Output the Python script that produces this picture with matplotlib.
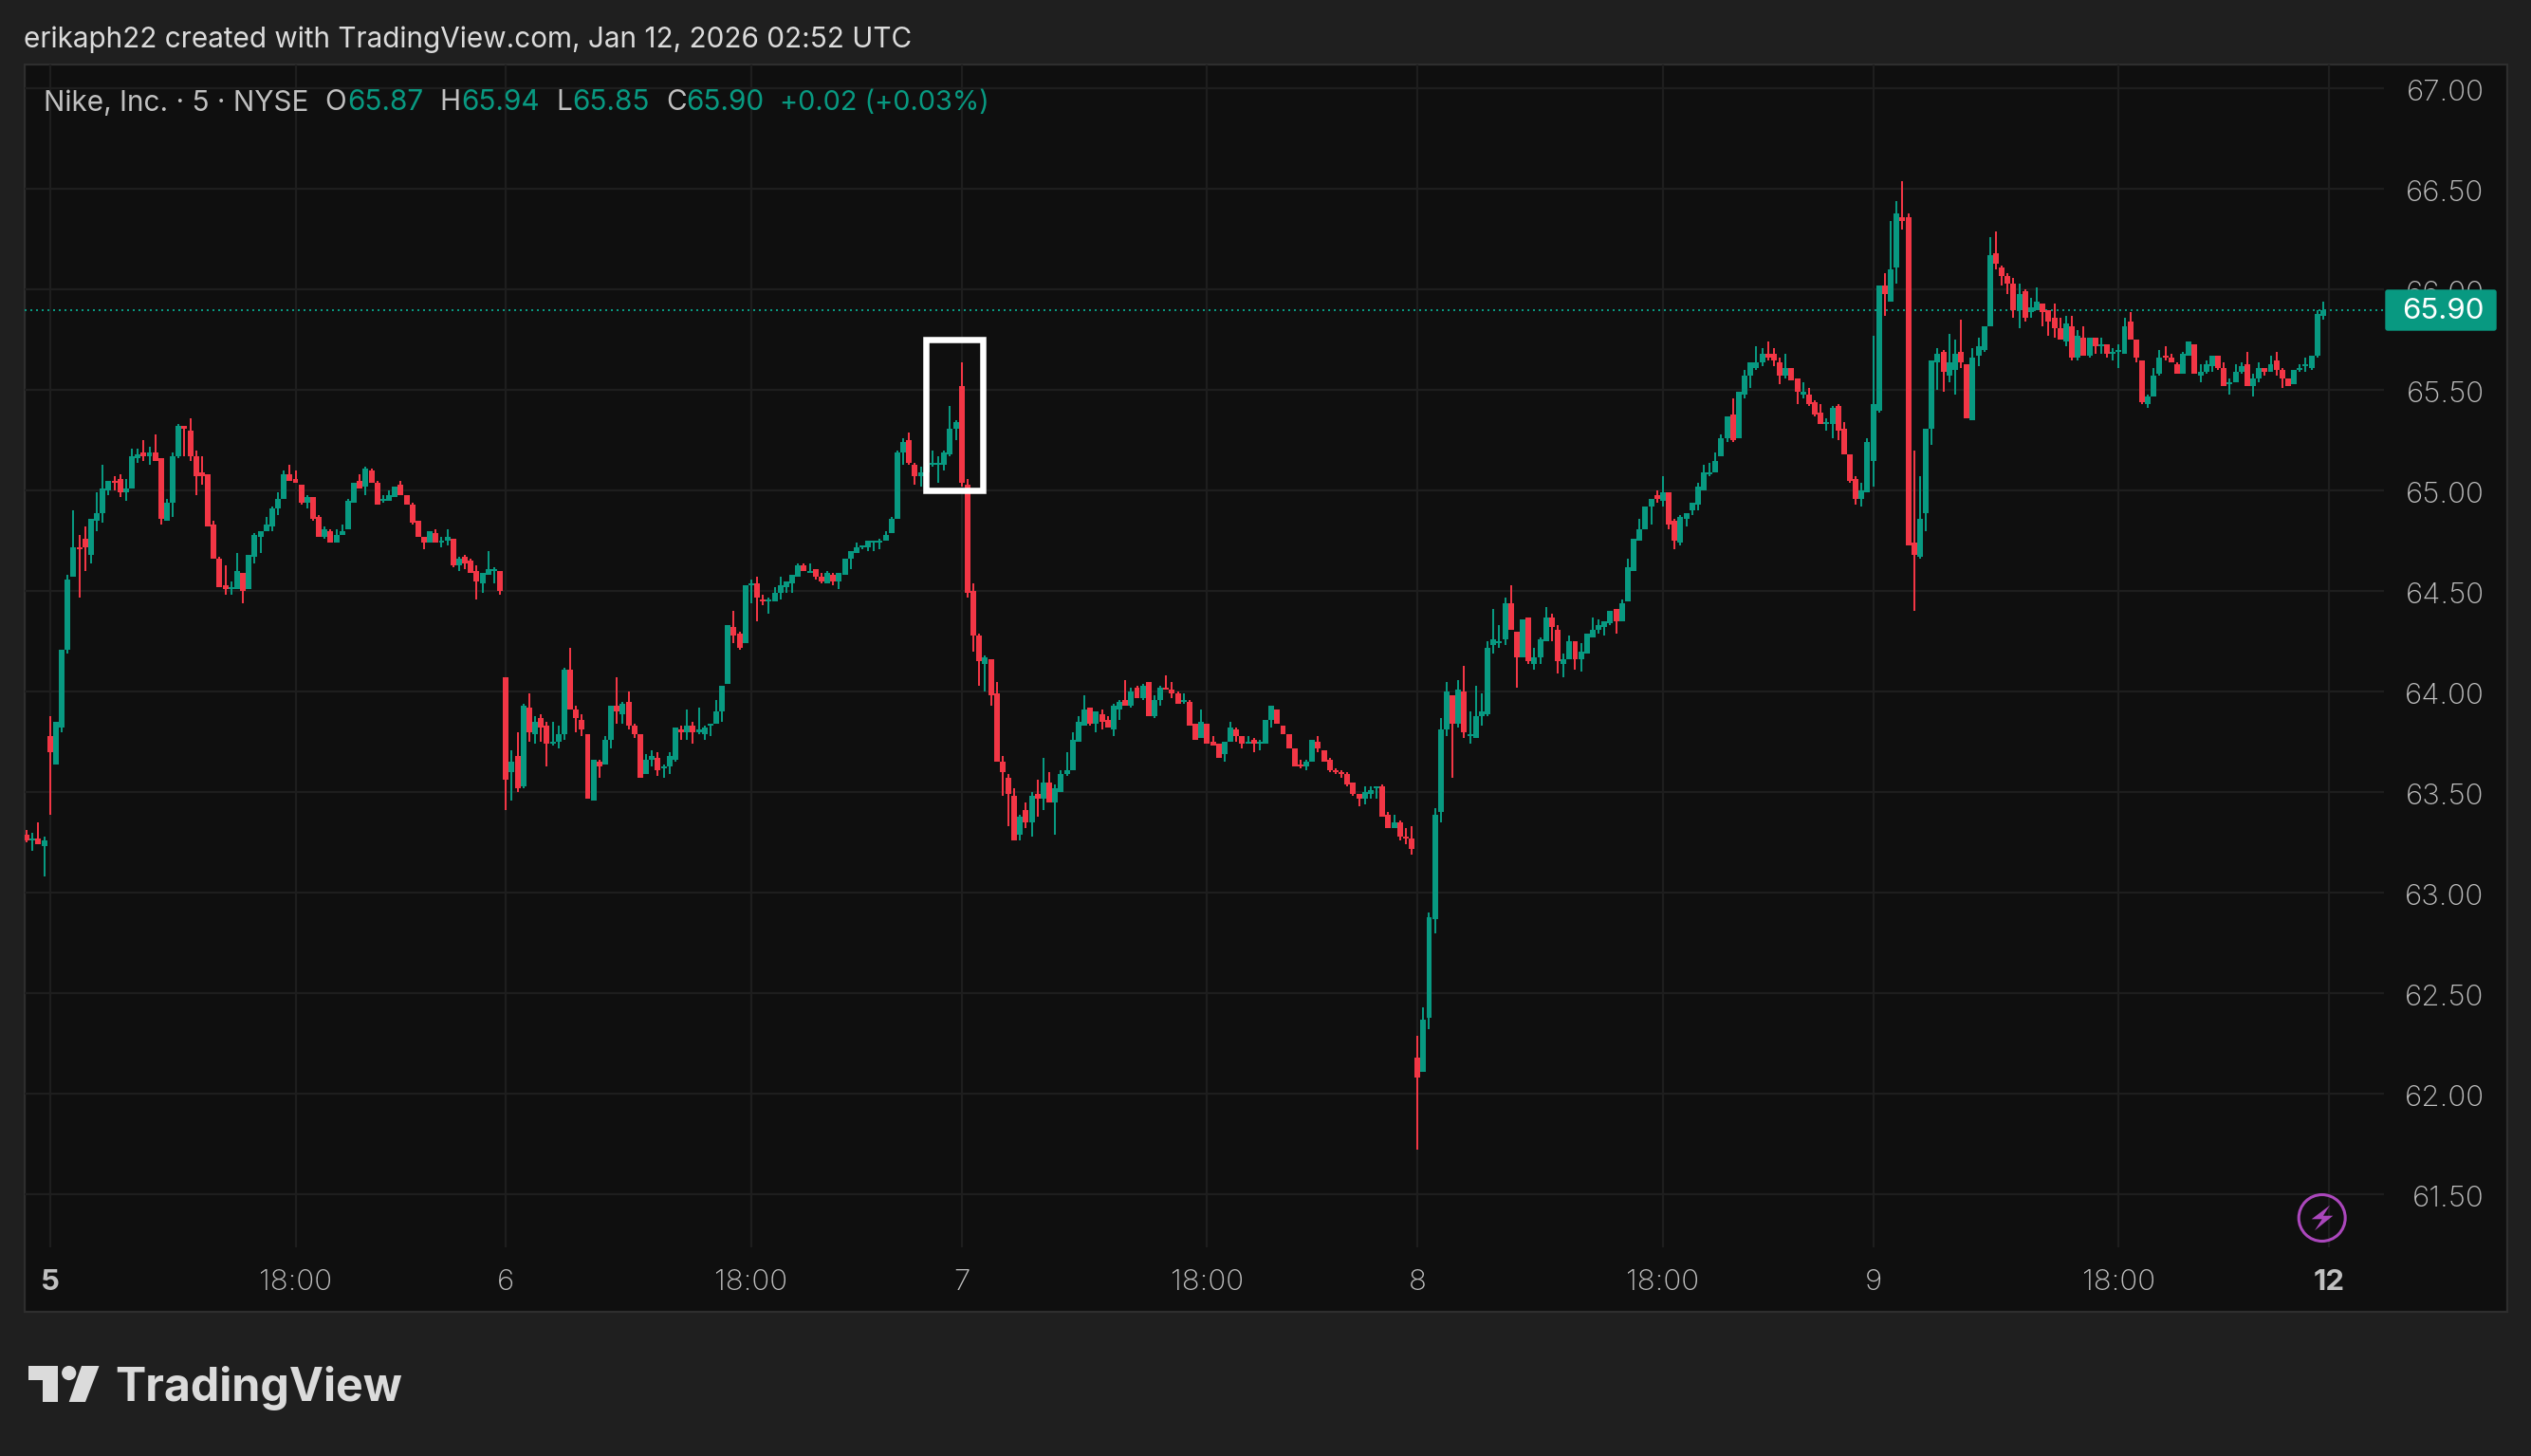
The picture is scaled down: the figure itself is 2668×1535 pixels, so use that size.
import matplotlib
matplotlib.use("Agg")
from matplotlib import pyplot as plt
from matplotlib.patches import Rectangle, Circle, Polygon, FancyBboxPatch
from matplotlib.transforms import Affine2D, ScaledTranslation

W, H = 2668, 1535

# last four bars of the previous session
prev_open = [63.29, 63.26, 63.27, 63.23]
prev_high = [63.31, 63.30, 63.35, 63.28]
prev_low = [63.25, 63.21, 63.24, 63.08]
prev_close = [63.26, 63.27, 63.24, 63.26]

# Jan 5
d5_open = [63.78, 63.64, 63.82, 64.21, 64.57, 64.72, 64.76, 64.68, 64.85, 64.89,
           65.00, 65.05, 65.06, 64.99, 65.01, 65.16, 65.19, 65.17, 65.19, 65.16,
           64.85, 64.94, 65.17, 65.32, 65.30, 65.17, 65.09, 65.08, 64.83, 64.66,
           64.53, 64.51, 64.51, 64.59, 64.51, 64.67, 64.77, 64.80, 64.82, 64.91,
           64.96, 65.08, 65.06, 65.03, 64.94, 64.97, 64.87, 64.77, 64.80, 64.74,
           64.78, 64.81, 64.94, 65.05, 65.02, 65.10, 65.04, 64.95, 64.95, 64.97,
           65.03, 64.98, 64.93, 64.85, 64.77, 64.74, 64.79, 64.74, 64.75, 64.76,
           64.63, 64.67, 64.65, 64.60, 64.54, 64.58, 64.60, 64.60]
d5_high = [63.88, 63.85, 64.21, 64.58, 64.90, 64.78, 64.82, 64.86, 64.99, 65.13,
           65.05, 65.07, 65.08, 65.06, 65.21, 65.21, 65.25, 65.22, 65.28, 65.16,
           64.96, 65.19, 65.33, 65.32, 65.36, 65.20, 65.17, 65.08, 64.85, 64.67,
           64.63, 64.55, 64.69, 64.59, 64.68, 64.79, 64.80, 64.87, 64.92, 64.99,
           65.10, 65.13, 65.10, 65.03, 64.98, 64.97, 64.88, 64.82, 64.81, 64.81,
           64.83, 64.96, 65.04, 65.08, 65.12, 65.11, 65.05, 64.98, 65.00, 65.02,
           65.05, 64.98, 64.94, 64.85, 64.77, 64.80, 64.81, 64.77, 64.81, 64.76,
           64.67, 64.68, 64.66, 64.63, 64.59, 64.70, 64.62, 64.60]
d5_low = [63.39, 63.64, 63.80, 64.19, 64.57, 64.47, 64.60, 64.64, 64.80, 64.84,
          64.98, 65.00, 64.97, 64.95, 65.01, 65.14, 65.15, 65.13, 65.15, 64.83,
          64.85, 64.87, 65.16, 65.17, 65.15, 64.98, 65.03, 64.82, 64.66, 64.52,
          64.48, 64.48, 64.51, 64.44, 64.51, 64.64, 64.69, 64.80, 64.80, 64.88,
          64.96, 65.05, 65.04, 64.93, 64.91, 64.85, 64.77, 64.76, 64.74, 64.74,
          64.78, 64.81, 64.94, 65.01, 64.98, 65.04, 64.93, 64.94, 64.95, 64.97,
          64.98, 64.93, 64.83, 64.77, 64.71, 64.74, 64.74, 64.72, 64.73, 64.62,
          64.60, 64.61, 64.59, 64.46, 64.49, 64.58, 64.54, 64.48]
d5_close = [63.70, 63.85, 64.21, 64.56, 64.72, 64.71, 64.72, 64.86, 64.89, 65.01,
            65.05, 65.04, 64.99, 65.01, 65.17, 65.18, 65.17, 65.19, 65.15, 64.86,
            64.94, 65.17, 65.32, 65.31, 65.17, 65.07, 65.07, 64.82, 64.66, 64.52,
            64.51, 64.52, 64.60, 64.50, 64.68, 64.78, 64.80, 64.83, 64.91, 64.96,
            65.08, 65.05, 65.04, 64.94, 64.97, 64.86, 64.77, 64.81, 64.74, 64.78,
            64.80, 64.95, 65.04, 65.01, 65.11, 65.04, 64.93, 64.96, 64.98, 65.02,
            64.98, 64.93, 64.84, 64.77, 64.74, 64.80, 64.74, 64.75, 64.77, 64.63,
            64.66, 64.64, 64.59, 64.55, 64.59, 64.61, 64.61, 64.50]

# Jan 6
d6_open = [64.07, 63.60, 63.68, 63.53, 63.92, 63.79, 63.87, 63.83, 63.74, 63.75,
           63.79, 64.11, 63.91, 63.86, 63.79, 63.46, 63.65, 63.64, 63.76, 63.93,
           63.89, 63.95, 63.83, 63.79, 63.59, 63.66, 63.67, 63.62, 63.63, 63.66,
           63.81, 63.80, 63.83, 63.80, 63.79, 63.83, 63.84, 63.90, 64.04, 64.32,
           64.29, 64.24, 64.53, 64.54, 64.46, 64.45, 64.45, 64.49, 64.52, 64.54,
           64.57, 64.63, 64.59, 64.61, 64.57, 64.54, 64.58, 64.55, 64.58, 64.66,
           64.69, 64.72, 64.72, 64.74, 64.74, 64.75, 64.79, 64.86, 65.19, 65.25,
           65.13, 65.07, 65.09, 65.13, 65.13, 65.13, 65.18, 65.31]
d6_high = [64.07, 63.71, 63.80, 63.94, 63.99, 63.88, 63.89, 63.85, 63.85, 63.83,
           64.12, 64.22, 63.93, 63.89, 63.79, 63.66, 63.66, 63.78, 63.93, 64.07,
           63.95, 64.00, 63.84, 63.79, 63.69, 63.71, 63.70, 63.64, 63.70, 63.82,
           63.83, 63.91, 63.85, 63.92, 63.83, 63.84, 63.96, 64.03, 64.33, 64.40,
           64.30, 64.53, 64.56, 64.57, 64.48, 64.47, 64.52, 64.57, 64.55, 64.58,
           64.64, 64.64, 64.64, 64.61, 64.59, 64.60, 64.59, 64.59, 64.66, 64.70,
           64.74, 64.73, 64.75, 64.75, 64.76, 64.80, 64.87, 65.20, 65.26, 65.29,
           65.14, 65.12, 65.13, 65.20, 65.17, 65.20, 65.42, 65.35]
d6_low = [63.41, 63.46, 63.50, 63.52, 63.75, 63.74, 63.75, 63.63, 63.73, 63.72,
          63.76, 63.91, 63.80, 63.78, 63.47, 63.46, 63.57, 63.64, 63.72, 63.84,
          63.84, 63.81, 63.77, 63.57, 63.59, 63.63, 63.58, 63.57, 63.59, 63.65,
          63.76, 63.76, 63.74, 63.79, 63.76, 63.78, 63.84, 63.85, 64.04, 64.24,
          64.21, 64.24, 64.44, 64.35, 64.43, 64.39, 64.45, 64.46, 64.49, 64.49,
          64.57, 64.60, 64.59, 64.56, 64.54, 64.54, 64.53, 64.51, 64.58, 64.61,
          64.69, 64.71, 64.70, 64.70, 64.71, 64.75, 64.79, 64.86, 65.13, 65.13,
          65.03, 65.02, 65.08, 65.12, 65.04, 65.10, 65.17, 65.25]
d6_close = [63.56, 63.65, 63.52, 63.93, 63.80, 63.85, 63.82, 63.74, 63.75, 63.79,
            64.11, 63.91, 63.87, 63.81, 63.47, 63.66, 63.63, 63.76, 63.93, 63.90,
            63.94, 63.83, 63.79, 63.57, 63.66, 63.68, 63.61, 63.63, 63.68, 63.82,
            63.80, 63.83, 63.80, 63.81, 63.82, 63.84, 63.90, 64.03, 64.33, 64.28,
            64.22, 64.53, 64.54, 64.47, 64.45, 64.46, 64.49, 64.53, 64.55, 64.58,
            64.63, 64.60, 64.60, 64.57, 64.55, 64.59, 64.55, 64.59, 64.66, 64.70,
            64.72, 64.73, 64.75, 64.75, 64.75, 64.78, 64.86, 65.19, 65.24, 65.14,
            65.07, 65.09, 65.13, 65.14, 65.14, 65.19, 65.31, 65.34]

# Jan 7
d7_open = [65.52, 65.03, 64.50, 64.28, 64.14, 64.16, 63.99, 63.65, 63.57, 63.48,
           63.29, 63.41, 63.35, 63.49, 63.47, 63.55, 63.45, 63.50, 63.59, 63.61,
           63.75, 63.83, 63.92, 63.84, 63.89, 63.86, 63.81, 63.91, 63.96, 63.93,
           64.02, 63.97, 64.05, 63.88, 63.96, 64.02, 64.01, 63.99, 63.95, 63.95,
           63.84, 63.77, 63.84, 63.75, 63.74, 63.69, 63.75, 63.81, 63.78, 63.74,
           63.76, 63.74, 63.74, 63.86, 63.91, 63.83, 63.79, 63.72, 63.64, 63.63,
           63.65, 63.75, 63.71, 63.66, 63.61, 63.60, 63.59, 63.55, 63.49, 63.47,
           63.49, 63.52, 63.53, 63.39, 63.32, 63.35, 63.28, 63.27]
d7_high = [65.64, 65.06, 64.54, 64.29, 64.18, 64.16, 64.05, 63.68, 63.59, 63.52,
           63.39, 63.45, 63.50, 63.56, 63.67, 63.60, 63.54, 63.61, 63.70, 63.80,
           63.88, 63.98, 63.92, 63.90, 63.91, 63.88, 63.94, 63.96, 64.06, 64.02,
           64.03, 64.04, 64.05, 63.98, 64.03, 64.08, 64.05, 64.00, 63.99, 63.96,
           63.84, 63.91, 63.84, 63.78, 63.74, 63.75, 63.85, 63.82, 63.78, 63.78,
           63.77, 63.76, 63.86, 63.93, 63.91, 63.83, 63.79, 63.72, 63.66, 63.66,
           63.76, 63.78, 63.71, 63.67, 63.62, 63.61, 63.60, 63.55, 63.49, 63.53,
           63.53, 63.53, 63.54, 63.40, 63.39, 63.36, 63.32, 63.33]
d7_low = [65.02, 64.47, 64.20, 64.03, 64.00, 63.93, 63.65, 63.48, 63.33, 63.26,
          63.26, 63.32, 63.28, 63.38, 63.41, 63.45, 63.29, 63.50, 63.58, 63.61,
          63.75, 63.83, 63.83, 63.80, 63.81, 63.82, 63.78, 63.86, 63.93, 63.92,
          63.97, 63.96, 63.88, 63.87, 63.93, 64.01, 63.97, 63.94, 63.94, 63.83,
          63.76, 63.77, 63.74, 63.73, 63.67, 63.65, 63.75, 63.75, 63.72, 63.74,
          63.70, 63.71, 63.74, 63.82, 63.84, 63.79, 63.72, 63.63, 63.62, 63.61,
          63.65, 63.70, 63.65, 63.60, 63.59, 63.57, 63.53, 63.48, 63.43, 63.44,
          63.47, 63.47, 63.38, 63.32, 63.32, 63.26, 63.24, 63.19]
d7_close = [65.04, 64.49, 64.28, 64.15, 64.17, 63.98, 63.65, 63.60, 63.49, 63.26,
            63.38, 63.35, 63.48, 63.47, 63.55, 63.45, 63.52, 63.59, 63.61, 63.76,
            63.85, 63.91, 63.84, 63.90, 63.85, 63.82, 63.93, 63.95, 63.93, 64.00,
            63.97, 64.03, 63.88, 63.96, 64.02, 64.01, 63.99, 63.94, 63.96, 63.83,
            63.76, 63.85, 63.74, 63.73, 63.67, 63.75, 63.82, 63.78, 63.74, 63.75,
            63.74, 63.75, 63.86, 63.93, 63.84, 63.79, 63.72, 63.63, 63.63, 63.65,
            63.76, 63.72, 63.65, 63.61, 63.60, 63.59, 63.54, 63.49, 63.47, 63.50,
            63.51, 63.53, 63.38, 63.32, 63.35, 63.28, 63.27, 63.22]

# Jan 8
d8_open = [62.18, 62.11, 62.38, 62.87, 63.40, 63.81, 63.98, 63.84, 64.00, 63.78,
           63.77, 63.88, 63.89, 64.23, 64.24, 64.26, 64.44, 64.30, 64.17, 64.37,
           64.14, 64.17, 64.25, 64.37, 64.31, 64.14, 64.16, 64.25, 64.16, 64.19,
           64.27, 64.31, 64.32, 64.34, 64.41, 64.35, 64.45, 64.60, 64.75, 64.81,
           64.92, 64.98, 64.95, 64.99, 64.85, 64.74, 64.86, 64.90, 64.93, 65.00,
           65.08, 65.09, 65.17, 65.26, 65.38, 65.26, 65.48, 65.57, 65.61, 65.64,
           65.68, 65.68, 65.64, 65.57, 65.61, 65.56, 65.48, 65.48, 65.44, 65.39,
           65.33, 65.33, 65.42, 65.31, 65.18, 65.06, 64.96, 64.99]
d8_high = [62.29, 62.43, 62.90, 63.42, 63.87, 64.05, 63.98, 64.06, 64.13, 63.90,
           64.03, 63.99, 64.25, 64.41, 64.33, 64.47, 64.53, 64.30, 64.36, 64.37,
           64.22, 64.27, 64.42, 64.39, 64.33, 64.19, 64.28, 64.25, 64.24, 64.29,
           64.37, 64.36, 64.35, 64.40, 64.41, 64.46, 64.66, 64.76, 64.86, 64.92,
           64.96, 65.00, 65.07, 64.99, 64.86, 64.88, 64.89, 64.94, 65.04, 65.13,
           65.14, 65.19, 65.28, 65.37, 65.46, 65.49, 65.60, 65.64, 65.72, 65.71,
           65.74, 65.71, 65.66, 65.68, 65.61, 65.56, 65.54, 65.51, 65.45, 65.43,
           65.36, 65.42, 65.43, 65.34, 65.18, 65.07, 65.04, 65.26]
d8_low = [61.72, 62.11, 62.32, 62.80, 63.35, 63.78, 63.57, 63.82, 63.77, 63.74,
          63.77, 63.83, 63.88, 64.19, 64.22, 64.23, 64.31, 64.02, 64.17, 64.14,
          64.11, 64.14, 64.25, 64.25, 64.09, 64.07, 64.16, 64.11, 64.10, 64.19,
          64.27, 64.29, 64.28, 64.33, 64.29, 64.35, 64.45, 64.60, 64.75, 64.81,
          64.83, 64.94, 64.92, 64.81, 64.71, 64.73, 64.82, 64.88, 64.90, 65.00,
          65.07, 65.09, 65.17, 65.24, 65.24, 65.26, 65.46, 65.51, 65.60, 65.62,
          65.65, 65.62, 65.53, 65.56, 65.55, 65.43, 65.46, 65.42, 65.37, 65.33,
          65.30, 65.26, 65.25, 65.18, 65.04, 64.93, 64.92, 64.99]
d8_close = [62.08, 62.37, 62.88, 63.39, 63.81, 64.00, 63.84, 64.01, 63.80, 63.79,
            63.88, 63.90, 64.22, 64.26, 64.25, 64.44, 64.31, 64.17, 64.36, 64.15,
            64.17, 64.26, 64.37, 64.32, 64.15, 64.16, 64.25, 64.16, 64.20, 64.29,
            64.31, 64.33, 64.35, 64.40, 64.35, 64.44, 64.62, 64.76, 64.81, 64.92,
            64.96, 64.96, 64.99, 64.83, 64.75, 64.87, 64.89, 64.94, 65.02, 65.09,
            65.09, 65.15, 65.26, 65.37, 65.25, 65.49, 65.57, 65.64, 65.64, 65.68,
            65.66, 65.65, 65.57, 65.61, 65.55, 65.49, 65.49, 65.43, 65.38, 65.33,
            65.34, 65.41, 65.30, 65.18, 65.05, 64.96, 65.00, 65.24]

# Jan 9
d9_open = [65.15, 65.40, 66.02, 65.94, 66.11, 66.36, 66.36, 64.74, 64.67, 64.89,
           65.31, 65.64, 65.69, 65.57, 65.60, 65.69, 65.63, 65.35, 65.67, 65.70,
           65.82, 66.18, 66.11, 66.07, 66.03, 65.90, 65.99, 65.89, 65.90, 65.93,
           65.90, 65.86, 65.81, 65.74, 65.82, 65.66, 65.76, 65.67, 65.76, 65.72,
           65.73, 65.68, 65.69, 65.68, 65.84, 65.75, 65.65, 65.43, 65.47, 65.58,
           65.67, 65.66, 65.63, 65.58, 65.67, 65.73, 65.57, 65.59, 65.62, 65.67,
           65.61, 65.53, 65.54, 65.59, 65.63, 65.52, 65.56, 65.61, 65.59, 65.65,
           65.60, 65.56, 65.53, 65.60, 65.62, 65.61, 65.67, 65.87]
d9_high = [65.77, 66.02, 66.08, 66.34, 66.44, 66.54, 66.38, 65.20, 65.07, 65.31,
           65.65, 65.71, 65.70, 65.78, 65.75, 65.85, 65.63, 65.71, 65.76, 65.82,
           66.26, 66.29, 66.12, 66.08, 66.06, 66.03, 66.00, 65.96, 66.01, 65.93,
           65.90, 65.93, 65.86, 65.87, 65.87, 65.80, 65.82, 65.76, 65.76, 65.76,
           65.73, 65.71, 65.73, 65.86, 65.89, 65.75, 65.65, 65.48, 65.61, 65.70,
           65.72, 65.68, 65.64, 65.69, 65.74, 65.73, 65.63, 65.65, 65.67, 65.67,
           65.64, 65.56, 65.63, 65.64, 65.69, 65.58, 65.64, 65.61, 65.67, 65.69,
           65.61, 65.56, 65.60, 65.63, 65.66, 65.67, 65.90, 65.94]
d9_low = [65.02, 65.39, 65.87, 65.94, 66.03, 66.30, 64.73, 64.40, 64.66, 64.80,
          65.23, 65.50, 65.49, 65.54, 65.48, 65.61, 65.36, 65.35, 65.62, 65.69,
          65.82, 66.10, 66.02, 65.98, 65.86, 65.81, 65.84, 65.86, 65.90, 65.82,
          65.77, 65.76, 65.75, 65.72, 65.65, 65.65, 65.67, 65.66, 65.68, 65.68,
          65.66, 65.65, 65.61, 65.68, 65.75, 65.64, 65.43, 65.41, 65.47, 65.57,
          65.65, 65.64, 65.58, 65.58, 65.67, 65.58, 65.54, 65.58, 65.59, 65.60,
          65.52, 65.48, 65.54, 65.58, 65.52, 65.47, 65.54, 65.57, 65.59, 65.57,
          65.51, 65.52, 65.53, 65.59, 65.59, 65.60, 65.66, 65.85]
d9_close = [65.43, 66.02, 65.98, 66.10, 66.38, 66.34, 64.73, 64.68, 64.86, 65.31,
            65.65, 65.68, 65.59, 65.64, 65.68, 65.64, 65.36, 65.66, 65.72, 65.82,
            66.17, 66.13, 66.07, 66.03, 65.90, 65.98, 65.86, 65.91, 65.94, 65.89,
            65.84, 65.81, 65.75, 65.83, 65.66, 65.77, 65.67, 65.76, 65.72, 65.73,
            65.68, 65.69, 65.70, 65.82, 65.75, 65.66, 65.44, 65.47, 65.57, 65.66,
            65.66, 65.64, 65.58, 65.68, 65.74, 65.58, 65.59, 65.63, 65.67, 65.61,
            65.52, 65.54, 65.59, 65.62, 65.52, 65.56, 65.61, 65.59, 65.63, 65.60,
            65.56, 65.52, 65.60, 65.61, 65.63, 65.67, 65.88, 65.90]

price_ticks = [61.5, 62.0, 62.5, 63.0, 63.5, 64.0, 64.5, 65.0, 65.5, 66.0, 66.5, 67.0]
time_ticks = [0, 42, 78, 120, 156, 198, 234, 276, 312, 354, 390]
time_labels = ["5", "18:00", "6", "18:00", "7", "18:00", "8", "18:00", "9", "18:00", "12"]

opens = prev_open + d5_open + d6_open + d7_open + d8_open + d9_open
highs = prev_high + d5_high + d6_high + d7_high + d8_high + d9_high
lows = prev_low + d5_low + d6_low + d7_low + d8_low + d9_low
closes = prev_close + d5_close + d6_close + d7_close + d8_close + d9_close
bars = list(range(-4, len(opens) - 4))

UP = "#089981"
DOWN = "#F23645"
BG = "#1F1F1F"
PANEL = "#0F0F0F"
GRID = "#1E1E1E"
BORDER = "#2E2E2E"
AXIS_TEXT = "#C0C0C0"
HEAD_TEXT = "#DBDBDB"
FONT = "Inter"

plt.rcParams["font.family"] = [FONT, "DejaVu Sans"]

fig = plt.figure(figsize=(W / 100, H / 100), dpi=100, facecolor=BG)
px = Affine2D().scale(1, -1).translate(0, H)

fig.add_artist(Rectangle((26, 68), 2617, 1315, transform=px, facecolor=PANEL,
                         edgecolor=BORDER, linewidth=1.6, zorder=-1))

ax = fig.add_axes([26 / W, 1 - 1315 / H, (2513 - 26) / W, (1315 - 68) / H])
ax.patch.set_alpha(0)
for s in ax.spines.values():
    s.set_visible(False)

ax.set_xlim(-4.35, 399.4)
ax.set_ylim(61.236, 67.12)
ax.set_axisbelow(True)
ax.grid(True, color=GRID, linewidth=1.6)

ax.set_yticks(price_ticks)
ax.set_yticklabels([f"{p:.2f}" for p in price_ticks])
ax.tick_params(axis="y", length=0, labelleft=False, labelright=True, pad=76,
               labelsize=22.5, labelcolor=AXIS_TEXT)
nudge = ScaledTranslation(0, -1.5 / 100, fig.dpi_scale_trans)
for lab in ax.get_yticklabels():
    lab.set_ha("right")
    lab.set_fontweight("light")
    lab.set_transform(lab.get_transform() + nudge)

ax.set_xticks(time_ticks)
ax.set_xticklabels(time_labels)
ax.tick_params(axis="x", length=0, pad=27, labelsize=22.5, labelcolor=AXIS_TEXT)
for lab in ax.get_xticklabels():
    lab.set_va("center")
    lab.set_fontweight("bold" if lab.get_text() in ("5", "12") else "light")

# last price line sits under the candles
ax.axhline(closes[-1], color=UP, linewidth=1.44, linestyle=(0, (1, 2)), zorder=1)

colors = [UP if c >= o else DOWN for o, c in zip(opens, closes)]
ax.vlines(bars, lows, highs, colors=colors, linewidth=1.44, antialiased=False, zorder=2)
ax.bar(bars, [abs(c - o) for o, c in zip(opens, closes)],
       bottom=[min(o, c) for o, c in zip(opens, closes)],
       width=0.97, color=colors, linewidth=0, antialiased=False, zorder=3)

# hand drawn box around the Jan 6 close
ax.add_patch(Rectangle((149.87, 65.0), 9.75, 0.75, fill=False, edgecolor="white",
                       linewidth=4.7, joinstyle="miter", zorder=4))

# header and legend
fig.text(25 / W, 1 - 41.5 / H, "erikaph22 created with TradingView.com, Jan 12, 2026 02:52 UTC",
         color=HEAD_TEXT, fontsize=21.4, va="center")
legend_runs = [(46, "Nike, Inc. · 5 · NYSE", AXIS_TEXT), (342, "O", AXIS_TEXT),
               (366, f"{opens[-1]:.2f}", UP), (463, "H", AXIS_TEXT),
               (486, f"{highs[-1]:.2f}", UP), (586, "L", AXIS_TEXT),
               (603, f"{lows[-1]:.2f}", UP), (702, "C", AXIS_TEXT),
               (723, f"{closes[-1]:.2f}", UP)]
for x, txt, col in legend_runs:
    fig.text(x / W, 1 - 108.5 / H, txt, color=col, fontsize=21.4, va="center")
fig.text(822 / W, 1 - 108.5 / H, "+0.02 (+0.03%)", color=UP, fontsize=20.8, va="center")

# last price tag, drawn over the 66.00 label
fig.add_artist(FancyBboxPatch((2515, 306), 116, 42, boxstyle="round,pad=0,rounding_size=2",
                              transform=px, facecolor=UP, edgecolor=UP, linewidth=1, zorder=5))
fig.text(2619 / W, 1 - 328 / H, f"{closes[-1]:.2f}", color="white", fontsize=22.5,
         ha="right", va="center", zorder=6)

# lightning badge
PURPLE = "#AB47BC"
fig.add_artist(Circle((2447.7, 1284), 24.5, transform=px, fill=False, edgecolor=PURPLE,
                      linewidth=2.2, zorder=5))
bolt = [(2456, 1270.7), (2436.7, 1285.3), (2447.7, 1285.3), (2440, 1297.3),
        (2459.3, 1281.7), (2449, 1281.7)]
fig.add_artist(Polygon(bolt, closed=True, transform=px, facecolor=PURPLE, edgecolor="none", zorder=5))

# logo
LOGO = "#DBDBDB"
fig.add_artist(Polygon([(30, 1440), (60.5, 1440), (60.5, 1478), (45, 1478), (45, 1455), (30, 1455)],
                       closed=True, transform=px, facecolor=LOGO, edgecolor="none"))
fig.add_artist(Circle((72.7, 1447.5), 7.6, transform=px, facecolor=LOGO, edgecolor="none"))
fig.add_artist(Polygon([(86, 1440), (104.5, 1440), (90, 1478), (72.7, 1478)],
                       closed=True, transform=px, facecolor=LOGO, edgecolor="none"))
fig.text(121 / W, 1 - 1477 / H, "TradingView", color=LOGO, fontsize=34.8, fontweight="bold",
         va="baseline")

fig.savefig("out.png", dpi=100, facecolor=BG)
